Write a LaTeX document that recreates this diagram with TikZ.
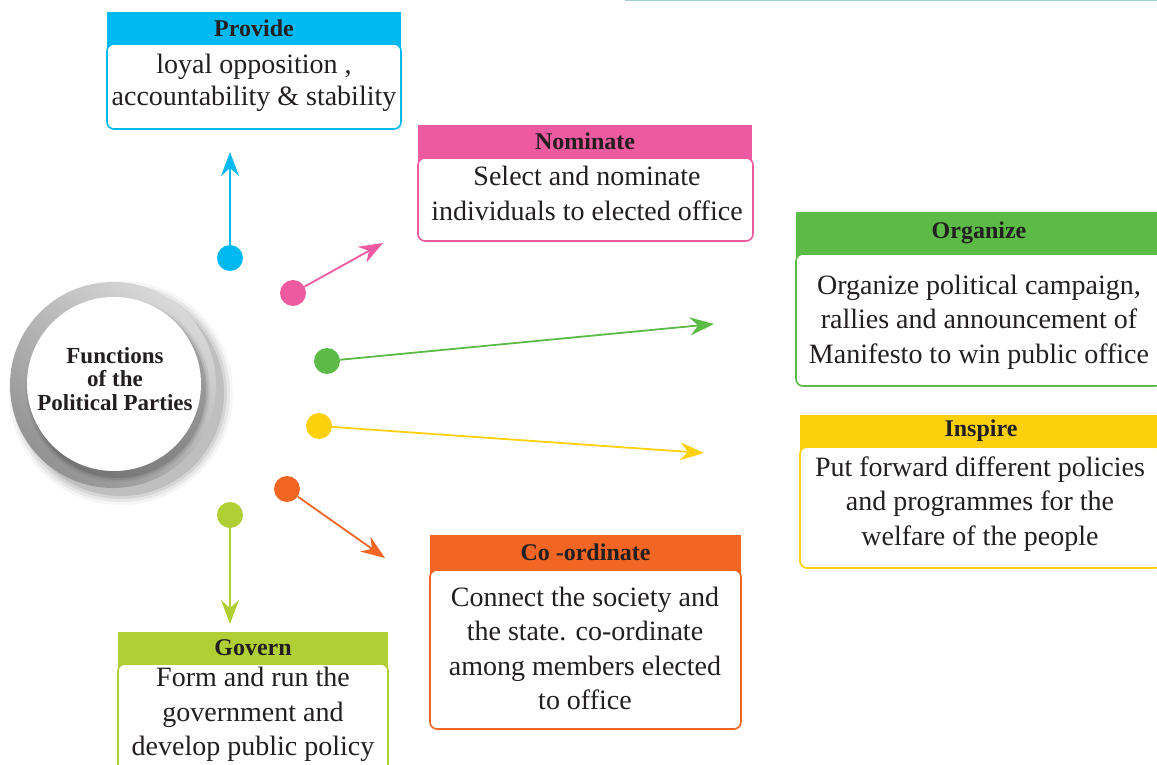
\documentclass[tikz,border=0pt]{standalone}
\usepackage{fontspec}
\setmainfont{Liberation Serif}
\usetikzlibrary{arrows.meta}
\definecolor{cProv}{HTML}{00B9F1}
\definecolor{cNom}{HTML}{EE5AA0}
\definecolor{cOrg}{HTML}{5BBB46}
\definecolor{cIns}{HTML}{FDD00E}
\definecolor{cCoo}{HTML}{F26522}
\definecolor{cGov}{HTML}{AFCF34}
\definecolor{cTxt}{HTML}{231F20}
\definecolor{cTeal}{HTML}{9ECFD2}
\begin{document}
\begin{tikzpicture}[x=1pt,y=-1pt,
  hdr/.style={rectangle, fill=#1, inner sep=0pt, text=cTxt,
    font=\fontsize{24}{28}\selectfont\bfseries},
  bodybox/.style={rectangle, rounded corners=7pt, draw=#1, line width=1.6pt,
    fill=white, inner sep=0pt},
  btxt/.style={align=center, inner sep=0pt, text=cTxt,
    font=\fontsize{28}{34.5}\selectfont},
  dotn/.style={circle, fill=#1, minimum size=26pt, inner sep=0pt},
  arr/.style={draw=#1, line width=1.8pt, -{Stealth[length=24pt,width=18pt,inset=8pt]}}
]
\useasboundingbox (0,0) rectangle (1157,765);
\draw[cTeal, line width=1.5pt] (625,0.75) -- (1157,0.75);

% ---------- central circle ----------
\foreach \r/\o in {112/0.04,109/0.06,106/0.08,103/0.10}
  \fill[black, opacity=\o] (121,393) circle (\r);
\shade[shading=axis, top color=gray!30, bottom color=gray!85, shading angle=-40]
  (113,385) circle (103);
\foreach \r/\o in {92/0.05,90/0.08,88/0.12}
  \fill[black, opacity=\o] (118,390) circle (\r);
\node[circle, fill=white, minimum size=174pt, inner sep=0pt]
  (center) at (114,384) {};
\node[align=center, inner sep=0pt, text=cTxt,
  font=\fontsize{23}{23.5}\selectfont\bfseries]
  (centerT) at (115,379) {Functions\\of the\\Political Parties};

% ---------- Provide ----------
\node[hdr=cProv, minimum width=294pt, minimum height=32pt] (provH) at (254,28) {Provide};
\fill[cProv] (provH.south west) rectangle ([yshift=-14pt]provH.south east);
\node[bodybox=cProv, minimum width=294pt, minimum height=85pt] (provB) at (254,86.5) {};
\node[btxt, font=\fontsize{28}{32}\selectfont] (provT) at (254,83)
  {loyal opposition ,\\accountability \& stability};

% ---------- Nominate ----------
\node[hdr=cNom, minimum width=334pt, minimum height=33pt] (nomH) at (585,141.5) {Nominate};
\fill[cNom] (nomH.south west) rectangle ([yshift=-14pt]nomH.south east);
\node[bodybox=cNom, minimum width=335pt, minimum height=83pt] (nomB) at (585.5,199.5) {};
\node[btxt] (nomT) at (587,193.5)
  {Select and nominate\\individuals to elected office};

% ---------- Organize ----------
\node[hdr=cOrg, minimum width=366pt, minimum height=42pt] (orgH) at (979,233) {Organize};
\fill[cOrg] (orgH.south west) rectangle ([yshift=-14pt]orgH.south east);
\node[bodybox=cOrg, minimum width=366pt, minimum height=132pt] (orgB) at (979,320) {};
\node[btxt] (orgT) at (979,322)
  {Organize political campaign,\\rallies and announcement of\\Manifesto to win public office};

% ---------- Inspire ----------
\node[hdr=cIns, minimum width=362pt, minimum height=32pt] (insH) at (981,431) {Inspire};
\fill[cIns] (insH.south west) rectangle ([yshift=-14pt]insH.south east);
\node[bodybox=cIns, minimum width=362pt, minimum height=121pt] (insB) at (981,507.5) {};
\node[btxt] (insT) at (980,504)
  {Put forward different policies\\and programmes for the\\welfare of the people};

% ---------- Co-ordinate ----------
\node[hdr=cCoo, minimum width=311pt, minimum height=35pt] (cooH) at (585.5,552.5) {Co -ordinate};
\fill[cCoo] (cooH.south west) rectangle ([yshift=-14pt]cooH.south east);
\node[bodybox=cCoo, minimum width=311pt, minimum height=159pt] (cooB) at (585.5,649.5) {};
\node[btxt] (cooT) at (585,648.5)
  {Connect the society and\\the state. co-ordinate\\among members elected\\to office};

% ---------- Govern ----------
\node[hdr=cGov, minimum width=270pt, minimum height=32pt] (govH) at (253,648) {Govern};
\fill[cGov] (govH.south west) rectangle ([yshift=-14pt]govH.south east);
\node[bodybox=cGov, minimum width=270pt, minimum height=116pt] (govB) at (253,722) {};
\node[btxt] (govT) at (253,714.5)
  {Form and run the\\government and\\develop public policy};

% ---------- dots and arrows ----------
\node[dotn=cProv] (dProv) at (230,258) {};
\node[dotn=cNom]  (dNom)  at (293,293) {};
\node[dotn=cOrg]  (dOrg)  at (327,361) {};
\node[dotn=cIns]  (dIns)  at (319,426) {};
\node[dotn=cCoo]  (dCoo)  at (287,489) {};
\node[dotn=cGov]  (dGov)  at (230,515) {};

\coordinate (eProv) at (230,152);
\coordinate (eNom)  at (383,243);
\coordinate (eOrg)  at (714,324);
\coordinate (eIns)  at (704,453);
\coordinate (eCoo)  at (385,558);
\coordinate (eGov)  at (230,624);

\draw[arr=cProv] (dProv) -- (eProv);
\draw[arr=cNom]  (dNom)  -- (eNom);
\draw[arr=cOrg]  (dOrg)  -- (eOrg);
\draw[arr=cIns]  (dIns)  -- (eIns);
\draw[arr=cCoo]  (dCoo)  -- (eCoo);
\draw[arr=cGov]  (dGov)  -- (eGov);
\end{tikzpicture}
\end{document}
